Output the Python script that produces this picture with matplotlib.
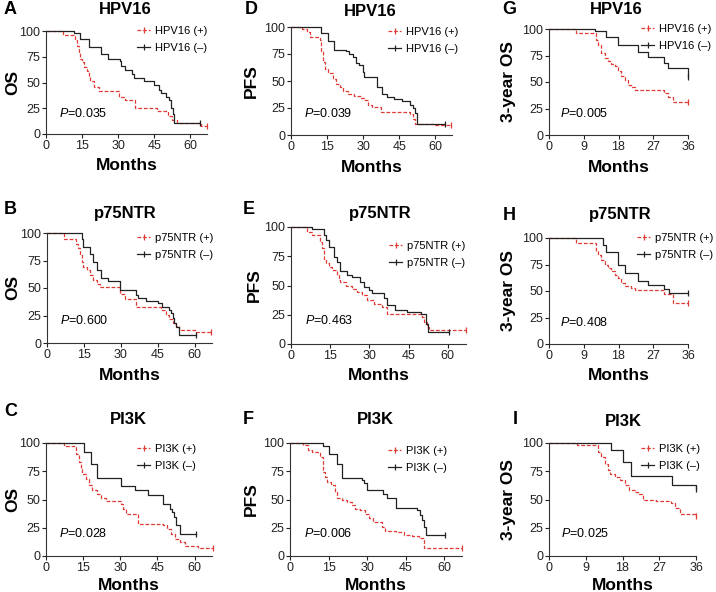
import numpy as np
import matplotlib
matplotlib.use("Agg")
import matplotlib.pyplot as plt
from matplotlib.lines import Line2D

plt.rcParams['font.family'] = ['Liberation Sans', 'DejaVu Sans']
plt.rcParams['mathtext.fontset'] = 'custom'
plt.rcParams['mathtext.it'] = 'Liberation Sans:italic'
plt.rcParams['mathtext.rm'] = 'Liberation Sans'

# ---- data: step times (months) and survival (%) ----
A_pos_t = [0, 7, 12, 13, 13.6, 14.3, 15, 15.7, 17, 17.8, 18.5, 20, 22, 30.4, 32.7, 37, 46.4, 50.6, 52.6, 54.7, 64.5, 67]
A_pos_s = [100, 96, 91, 85, 79, 73, 70, 65, 61, 56, 51, 46, 42, 36, 33, 25, 22, 17, 14, 11, 7.5, 7.5]
A_neg_t = [0, 11.8, 14.3, 17.8, 22.7, 25.8, 30.6, 31.3, 32.7, 35.9, 36.6, 40.8, 45, 47, 48, 49.9, 51.3, 52, 52.7, 53.3, 64]
A_neg_s = [100, 97.7, 92, 84, 78, 73, 71, 66, 62, 58, 54, 51, 48, 43, 40, 36, 33, 25, 19, 11, 11]

D_pos_t = [0, 4.4, 6.5, 8.1, 12, 12.6, 13.3, 14, 15.4, 17.4, 18.8, 20.2, 21.6, 23.6, 26.4, 29.1, 30.5, 31.9, 33.9, 37.4, 49.7, 50.7, 51.8, 60, 66.5]
D_pos_s = [100, 98, 95, 91, 88, 78, 68, 61, 57, 52, 47.5, 44, 41, 38, 36, 34, 32, 28, 26, 21, 19.5, 15, 10.5, 9.5, 9.5]
D_neg_t = [0, 12.6, 15.4, 18.1, 22.7, 24.3, 25.7, 27, 28.4, 29.8, 30.5, 35.6, 38, 40.1, 42.9, 46.3, 49.7, 50.6, 51.4, 52.5, 64]
D_neg_s = [100, 94, 87, 79, 77.5, 75, 72, 67, 64.5, 58, 54, 44, 38, 35, 33, 31.5, 28, 25, 20, 10.5, 10.5]

G_pos_t = [0, 7.1, 12.1, 12.7, 13.5, 14.4, 15.3, 16.1, 17, 17.8, 18.7, 19.6, 20.4, 21.3, 22.2, 29.9, 30.8, 32.1, 36]
G_pos_s = [100, 96, 90, 85, 77, 72.6, 69.4, 67, 64.7, 60, 56, 52, 47, 45, 42.6, 39.4, 35.6, 31.5, 31.5]
G_neg_t = [0, 11.8, 14.8, 17.8, 23, 25.6, 29.9, 30.8, 36]
G_neg_s = [100, 97.8, 92.4, 85, 77.9, 74, 67.8, 63, 55]

B_pos_t = [0, 6.7, 11.8, 12.4, 13.2, 14.1, 14.8, 16.4, 17.4, 18.8, 20.1, 21.5, 29.8, 31.5, 36.2, 46.3, 48.3, 49.7, 51, 52.3, 53.7, 60.4, 66.7]
B_pos_s = [100, 95, 90, 86, 80, 74, 69, 66, 62, 57, 54, 51, 45, 40, 33, 30, 25.6, 22, 18, 15.7, 12, 10, 10]
B_neg_t = [0, 14.1, 14.8, 17.4, 18.8, 20.1, 22.1, 24.8, 29.5, 29.8, 36, 36.9, 40.3, 45, 46.6, 49.7, 50.4, 51, 51.7, 52.3, 53.7, 60.4]
B_neg_s = [100, 95, 87, 81, 74, 66, 59, 56, 53, 48, 44, 41, 38, 36, 33, 30, 27, 22.6, 18, 15, 7.5, 7.5]

E_pos_t = [0, 6.1, 8, 11.2, 11.9, 12.5, 13.5, 14.4, 15.7, 17.6, 18.2, 18.9, 21.2, 23.4, 25.3, 27.2, 29.1, 31.7, 34.9, 36.8, 50.2, 51.1, 52.1, 52.7, 67]
E_pos_s = [100, 96, 93, 87, 82, 73, 69, 66, 63, 59, 54.6, 53, 50, 47, 44.6, 41.7, 38, 34.6, 31.7, 26, 23, 18.9, 14.6, 11.7, 11.7]
E_neg_t = [0, 8, 12.5, 13.5, 14.4, 16.6, 17.6, 18.9, 21.5, 23.4, 26.3, 27.8, 29.8, 31, 35.5, 36.8, 40, 44.4, 49.6, 51.5, 52.4, 60.4]
E_neg_s = [100, 98, 93, 89, 83, 74.6, 70, 62, 59.4, 57, 53, 49, 46, 44, 39, 33, 29, 27.4, 26, 17.4, 10.3, 10.3]

H_pos_t = [0, 7.1, 12.1, 12.7, 13.5, 14.4, 15.3, 16.1, 17, 17.8, 18.7, 19.6, 21.3, 22.2, 29.9, 32.1, 36]
H_pos_s = [100, 95, 88, 84, 79.4, 74.7, 71.5, 68.4, 65, 62, 58, 55, 53, 51, 47, 39, 39]
H_neg_t = [0, 14, 14.8, 17.8, 19.8, 23, 25.6, 29.9, 31.2, 36]
H_neg_s = [100, 93, 87, 74.7, 66.8, 59, 56, 52, 48.4, 48.4]

C_pos_t = [0, 7.2, 12.3, 13.2, 14, 14.7, 16, 17.3, 18.7, 20.7, 22.1, 24.1, 30.2, 30.9, 32.2, 37, 47.2, 48.9, 50.5, 51.9, 53.9, 56, 61.4, 67.5]
C_pos_s = [100, 97, 90.6, 83, 77, 73, 68, 62.5, 58, 55, 51, 49, 46, 42, 37.5, 28.6, 27, 23.6, 19.8, 15.3, 12.4, 8.8, 7, 7]
C_neg_t = [0, 15.3, 18.3, 20.5, 30.2, 35.9, 41, 47.2, 49.9, 50.8, 51.6, 52.6, 53.9, 60.4]
C_neg_s = [100, 92, 81, 69, 62, 58, 54, 46, 42, 39, 34.5, 27, 19.8, 19.8]

F_pos_t = [0, 5.2, 7.2, 8.5, 11.7, 12.8, 13.7, 14.6, 15.9, 17.6, 18.3, 20.2, 22.2, 24.1, 25.4, 27.4, 29.3, 30.6, 32.3, 35.9, 37.2, 41.1, 44.3, 47.6, 50.2, 52.2, 67]
F_pos_s = [100, 98, 93.5, 92, 87.6, 74, 70, 65.6, 62.6, 56.8, 51.5, 49.4, 48, 45, 42, 40.6, 37.6, 33.8, 30.3, 25.9, 22, 21, 19, 18, 15.6, 7.4, 7.4]
F_neg_t = [0, 13, 15, 18.3, 20.2, 28, 29, 30, 36.2, 37.8, 41.1, 49.5, 50.8, 51.5, 52.2, 53, 60.2]
F_neg_s = [100, 97, 90.6, 81.8, 69, 67, 64.7, 58, 55, 51, 42.6, 40.6, 36, 31.8, 25.9, 19, 19]

I_pos_t = [0, 6.9, 12, 12.8, 13.6, 14.4, 15, 16.1, 17.3, 18.5, 19.6, 21, 21.8, 22.9, 26.3, 29.8, 30.8, 32, 36]
I_pos_s = [100, 98, 92, 87.4, 81.5, 75.7, 72.7, 69.8, 67, 62.5, 58.7, 56.6, 55, 50, 48.7, 47, 42.5, 37.5, 35]
I_neg_t = [0, 15.3, 18, 20.2, 30, 36]
I_neg_s = [100, 94, 83, 70.4, 62.5, 59.5]

markers = ['HPV16', 'p75NTR', 'PI3K']
endpoints = ['OS', 'PFS', '3-year OS']
p_values = {'A': '0.035', 'B': '0.600', 'C': '0.028',
            'D': '0.039', 'E': '0.463', 'F': '0.006',
            'G': '0.005', 'H': '0.408', 'I': '0.025'}
curves = {'A': (A_pos_t, A_pos_s, A_neg_t, A_neg_s), 'B': (B_pos_t, B_pos_s, B_neg_t, B_neg_s),
          'C': (C_pos_t, C_pos_s, C_neg_t, C_neg_s), 'D': (D_pos_t, D_pos_s, D_neg_t, D_neg_s),
          'E': (E_pos_t, E_pos_s, E_neg_t, E_neg_s), 'F': (F_pos_t, F_pos_s, F_neg_t, F_neg_s),
          'G': (G_pos_t, G_pos_s, G_neg_t, G_neg_s), 'H': (H_pos_t, H_pos_s, H_neg_t, H_neg_s),
          'I': (I_pos_t, I_pos_s, I_neg_t, I_neg_s)}

# ---- layout in pixels ----
W, H = 716, 592
# axes (left, top, right, bottom), letter xy, title xy, legend xy, ylabel centre x
layout = {
    'A': dict(ax=(46, 31, 207, 134), let=(4, 10), tit=(125, 10), leg=(137, 32), yl=13),
    'B': dict(ax=(47, 233, 212, 343), let=(4, 210), tit=(125, 213), leg=(137, 239), yl=13),
    'C': dict(ax=(46, 443, 212, 556), let=(4, 412), tit=(128, 420), leg=(137, 450), yl=13),
    'D': dict(ax=(291, 27, 452, 135), let=(245, 10), tit=(370, 11), leg=(388, 33), yl=252),
    'E': dict(ax=(291, 227, 466, 344), let=(243, 209), tit=(380, 213), leg=(389, 247), yl=255),
    'F': dict(ax=(290, 443, 462, 556), let=(243, 419), tit=(375, 420), leg=(388, 452), yl=252),
    'G': dict(ax=(549, 29, 688, 135), let=(502, 10), tit=(616, 10), leg=(641, 30), yl=509),
    'H': dict(ax=(549, 238, 688, 344), let=(503, 215), tit=(620, 215), leg=(637, 239), yl=509),
    'I': dict(ax=(549, 443, 696, 556), let=(513, 420), tit=(623, 422), leg=(641, 450), yl=509),
}

red = '#e03a35'
blk = '#222222'

fig = plt.figure(figsize=(W / 100, H / 100), dpi=100)

for col, letters in enumerate(['ABC', 'DEF', 'GHI']):
    for row, let in enumerate(letters):
        L = layout[let]
        l, t, r, b = L['ax']
        ax = fig.add_axes([l / W, 1 - b / H, (r - l) / W, (b - t) / H])
        if col == 2:
            xmax, xticks = 36, [0, 9, 18, 27, 36]
        else:
            xmax, xticks = 67, [0, 15, 30, 45, 60]
        pt, ps, nt, ns = curves[let]
        ax.step(pt, ps, where='post', color=red, lw=0.9, ls=(0, (3, 1.5)), clip_on=False)
        ax.step(nt, ns, where='post', color=blk, lw=0.9, clip_on=False)
        # censor tick at end of each curve
        ax.plot([pt[-1]], [ps[-1]], ls='none', marker='|', ms=4, mew=0.9, color=red, clip_on=False)
        ax.plot([nt[-1]], [ns[-1]], ls='none', marker='|', ms=4, mew=0.9, color=blk, clip_on=False)

        ax.set_xlim(0, xmax)
        ax.set_ylim(0, 100)
        ax.set_xticks(xticks)
        ax.set_yticks([0, 25, 50, 75, 100])
        for s in ['top', 'right']:
            ax.spines[s].set_visible(False)
        for s in ['left', 'bottom']:
            ax.spines[s].set_linewidth(0.8)
            ax.spines[s].set_color('#333333')
        ax.tick_params(labelsize=9, length=3, width=0.8, pad=1, colors='#222222')
        ax.set_xlabel('Months', fontsize=12.5, fontweight='bold', labelpad=5 if row < 2 else 3)
        ax.set_ylabel(endpoints[col], fontsize=12.5, fontweight='bold')
        ax.yaxis.set_label_coords((L['yl'] + 7 - l) / (r - l), 0.5)

        ax.text(0.08, 0.2, '$P$=' + p_values[let], transform=ax.transAxes,
                fontsize=9, va='center', ha='left')

        fig.text(L['let'][0] / W, 1 - L['let'][1] / H, let, fontsize=13, fontweight='bold',
                 va='center', ha='left')
        fig.text(L['tit'][0] / W, 1 - L['tit'][1] / H, markers[row], fontsize=12,
                 fontweight='bold', va='center', ha='center')

        name = markers[row]
        handles = [Line2D([], [], color=red, lw=0.9, ls=(0, (3, 1.5)), marker='|', ms=4, mew=0.9),
                   Line2D([], [], color=blk, lw=0.9, marker='|', ms=4, mew=0.9)]
        ax.legend(handles, [name + ' (+)', name + ' (–)'], loc='upper left',
                  bbox_to_anchor=(L['leg'][0] / W, 1 - (L['leg'][1] - 6) / H),
                  bbox_transform=fig.transFigure, frameon=False, fontsize=8,
                  borderpad=0, borderaxespad=0, handlelength=1.2, handletextpad=0.4,
                  labelspacing=0.6, numpoints=1)

fig.savefig('out.png', dpi=100)
